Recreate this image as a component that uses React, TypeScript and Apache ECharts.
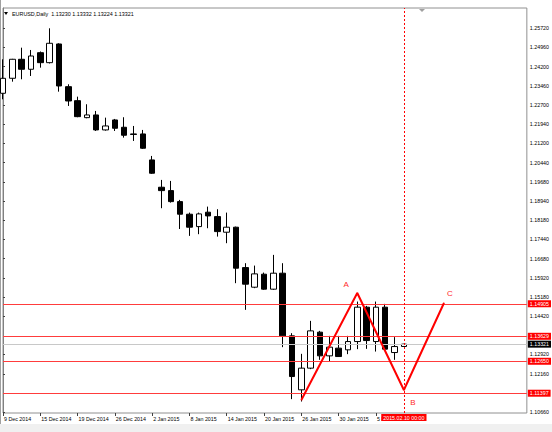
import { useEffect, useRef } from 'react';
import * as echarts from 'echarts';

const dates = [
  '9 Dec 2014', '10 Dec 2014', '11 Dec 2014', '12 Dec 2014', '15 Dec 2014', '16 Dec 2014',
  '17 Dec 2014', '18 Dec 2014', '19 Dec 2014', '22 Dec 2014', '23 Dec 2014', '24 Dec 2014',
  '26 Dec 2014', '29 Dec 2014', '30 Dec 2014', '31 Dec 2014', '2 Jan 2015', '5 Jan 2015',
  '6 Jan 2015', '7 Jan 2015', '8 Jan 2015', '9 Jan 2015', '12 Jan 2015', '13 Jan 2015',
  '14 Jan 2015', '15 Jan 2015', '16 Jan 2015', '19 Jan 2015', '20 Jan 2015', '21 Jan 2015',
  '22 Jan 2015', '23 Jan 2015', '26 Jan 2015', '27 Jan 2015', '28 Jan 2015', '29 Jan 2015',
  '30 Jan 2015', '2 Feb 2015', '3 Feb 2015', '4 Feb 2015', '5 Feb 2015', '6 Feb 2015',
  '9 Feb 2015', '10 Feb 2015',
];

const opens = [
  1.23159, 1.23748, 1.24493, 1.24101, 1.24752, 1.24360, 1.25093, 1.23419, 1.22870, 1.22204,
  1.22310, 1.21722, 1.22114, 1.21827, 1.21565, 1.21565, 1.20546, 1.19475, 1.19342, 1.18911,
  1.18417, 1.17931, 1.18496, 1.18323, 1.17711, 1.17908, 1.16324, 1.15555, 1.16065, 1.15477,
  1.16104, 1.13646, 1.11530, 1.12380, 1.13791, 1.12862, 1.13164, 1.13098, 1.13423, 1.14771,
  1.13423, 1.14771, 1.12992, 1.13230,
];
const highs = [
  1.24492, 1.24510, 1.24948, 1.24858, 1.24799, 1.25708, 1.25120, 1.23513, 1.23027, 1.22729,
  1.22467, 1.22204, 1.22153, 1.22220, 1.21878, 1.21722, 1.20702, 1.19762, 1.19722, 1.18978,
  1.18480, 1.18480, 1.18715, 1.18613, 1.18480, 1.17931, 1.16496, 1.16402, 1.16128, 1.16822,
  1.16496, 1.13752, 1.12941, 1.14234, 1.13842, 1.13646, 1.13646, 1.13646, 1.14991, 1.14822,
  1.14991, 1.14901, 1.13596, 1.13332,
];
const lows = [
  1.22924, 1.23615, 1.23709, 1.23838, 1.24164, 1.24328, 1.23223, 1.22662, 1.22220, 1.22180,
  1.21682, 1.21694, 1.21682, 1.21420, 1.21290, 1.20977, 1.19997, 1.18652, 1.18872, 1.17837,
  1.17567, 1.17633, 1.17868, 1.17539, 1.17280, 1.15712, 1.14666, 1.15516, 1.15450, 1.15450,
  1.13203, 1.11165, 1.11071, 1.12341, 1.12706, 1.12639, 1.12823, 1.12929, 1.13125, 1.13137,
  1.13031, 1.13098, 1.12706, 1.13224,
];
const closes = [
  1.23747, 1.24493, 1.24101, 1.24622, 1.24360, 1.25120, 1.23446, 1.22858, 1.22243, 1.22310,
  1.21722, 1.21878, 1.21788, 1.21514, 1.21545, 1.21004, 1.20024, 1.19342, 1.18911, 1.18417,
  1.17908, 1.18429, 1.18350, 1.17735, 1.17908, 1.16300, 1.15673, 1.16077, 1.15477, 1.16104,
  1.13646, 1.12051, 1.12380, 1.13842, 1.12862, 1.13203, 1.12835, 1.13423, 1.14771, 1.13462,
  1.14771, 1.13125, 1.13227, 1.13321,
];

const yTickValues = [
  1.10660, 1.12160, 1.12920, 1.14420, 1.15180, 1.15920, 1.16680, 1.17440, 1.18180, 1.18940,
  1.19680, 1.20440, 1.21200, 1.21940, 1.22700, 1.23460, 1.24200, 1.24960, 1.25720,
];
const xLabelIndices = [0, 4, 8, 12, 16, 20, 24, 28, 32, 36, 40];

const levelPrices = [1.14905, 1.13629, 1.12650, 1.11397];
const bidPrice = 1.13321;
const cursorIndex = 43;
const cursorLabel = '2015.02.10 00:00';

const patternX = [32, 38, 43, 47.3];
const patternY = [1.11131, 1.15327, 1.11523, 1.14935];
const patternNames = ['', 'A', 'B', 'C'];

const headerText = 'EURUSD,Daily  1.13230 1.13332 1.13224 1.13321';

const FONT = 'Liberation Sans';
const SMALL = 5.3;

const labelOffsets: Record<string, number[]> = {
  A: [-11, -9],
  B: [9, 13],
  C: [6, -9],
};

export default function App() {
  const ref = useRef<HTMLDivElement>(null);

  useEffect(() => {
    if (!ref.current) return;
    const chart = echarts.init(ref.current, undefined, { renderer: 'svg' });

    const priceLabel = (txt: string, bg: string) => ({
      show: true,
      position: 'end',
      formatter: txt,
      backgroundColor: bg,
      color: '#ffffff',
      padding: [1, 2],
      distance: 1,
      fontSize: SMALL,
      fontFamily: FONT,
    });

    const markOnly = (z: number, lineColor: string, lineType: any, items: any[]) => ({
      type: 'line',
      data: [],
      silent: true,
      z,
      markLine: {
        silent: true,
        precision: 6,
        symbol: ['none', 'none'],
        animation: false,
        lineStyle: { color: lineColor, width: 1, type: lineType, opacity: 1 },
        data: items,
      },
    });

    const option: any = {
      animation: false,
      backgroundColor: '#ffffff',
      grid: {
        left: 3,
        right: 25,
        top: 8,
        bottom: 19,
        show: true,
        borderColor: '#909090',
        borderWidth: 1,
        backgroundColor: 'transparent',
      },
      xAxis: {
        type: 'value',
        min: 0,
        max: 56.19,
        axisLine: { show: false },
        splitLine: { show: false },
        axisTick: {
          show: true,
          length: 3,
          customValues: xLabelIndices,
          lineStyle: { color: '#404040' },
        },
        axisLabel: {
          customValues: xLabelIndices,
          formatter: (v: number) => dates[Math.round(v)] ?? '',
          align: 'left',
          margin: 3,
          padding: [0, 0, 0, 1],
          fontSize: SMALL,
          fontFamily: FONT,
          color: '#000000',
        },
      },
      yAxis: {
        type: 'value',
        position: 'right',
        min: 1.10621,
        max: 1.26504,
        axisLine: { show: true, lineStyle: { color: '#808080' } },
        axisTick: {
          show: true,
          length: 2,
          customValues: yTickValues,
          lineStyle: { color: '#404040' },
        },
        axisLabel: {
          customValues: yTickValues,
          formatter: (v: number) => v.toFixed(5),
          margin: 3,
          fontSize: SMALL,
          fontFamily: FONT,
          color: '#000000',
        },
        splitLine: { show: false },
      },
      series: [
        markOnly(1, '#c8c8c8', 'solid', [
          { yAxis: bidPrice, label: priceLabel(bidPrice.toFixed(5), '#000000') },
        ]),
        markOnly(
          1,
          '#ff3c3c',
          'solid',
          levelPrices.map((p) => ({ yAxis: p, label: priceLabel(p.toFixed(5), '#ff0000') })),
        ),
        {
          type: 'candlestick',
          z: 3,
          data: dates.map((_, i) => [i, opens[i], closes[i], lows[i], highs[i]]),
          encode: { x: 0, y: [1, 2, 3, 4] },
          barWidth: 6,
          clip: true,
          itemStyle: {
            color: '#ffffff',
            color0: '#000000',
            borderColor: '#000000',
            borderColor0: '#000000',
            borderColorDoji: '#000000',
            borderWidth: 1,
          },
        },
        markOnly(4, '#ff0000', [2, 2], [
          {
            xAxis: cursorIndex,
            label: {
              show: true,
              position: 'start',
              formatter: cursorLabel,
              backgroundColor: '#ff0000',
              color: '#ffffff',
              padding: [1, 2],
              distance: 1,
              fontSize: SMALL,
              fontFamily: FONT,
            },
          },
        ]),
        {
          type: 'line',
          z: 5,
          symbol: 'circle',
          symbolSize: 1,
          showSymbol: true,
          lineStyle: { color: '#ff0000', width: 2 },
          itemStyle: { color: '#ff0000' },
          data: patternX.map((x, i) => ({
            value: [x, patternY[i]],
            label: patternNames[i]
              ? {
                  show: true,
                  formatter: patternNames[i],
                  position: 'inside',
                  offset: labelOffsets[patternNames[i]],
                  color: '#ff2a2a',
                  fontSize: 8,
                  fontFamily: FONT,
                }
              : { show: false },
          })),
        },
      ],
      graphic: [
        {
          type: 'rect',
          shape: { x: 0, y: 424, width: 552, height: 8 },
          style: { fill: '#f0f0f0' },
          silent: true,
        },
        {
          type: 'line',
          shape: { x1: 0.5, y1: 0, x2: 0.5, y2: 424 },
          style: { stroke: '#a0a0a0', lineWidth: 1 },
          silent: true,
        },
        {
          type: 'polygon',
          shape: { points: [[4, 12], [8, 12], [6, 15]] },
          style: { fill: '#000000' },
          silent: true,
        },
        {
          type: 'text',
          x: 12,
          y: 14,
          style: {
            text: headerText,
            fontSize: 5.4,
            fontFamily: FONT,
            fill: '#000000',
            verticalAlign: 'middle',
          },
          silent: true,
        },
        {
          type: 'polygon',
          shape: { points: [[419, 9], [425, 9], [422, 12]] },
          style: { fill: '#a0a0a0' },
          silent: true,
        },
      ],
    };

    chart.setOption(option);
    return () => chart.dispose();
  }, []);

  return (
    <div
      ref={ref}
      style={{ position: 'fixed', left: 0, top: 0, width: 552, height: 432 }}
    />
  );
}
